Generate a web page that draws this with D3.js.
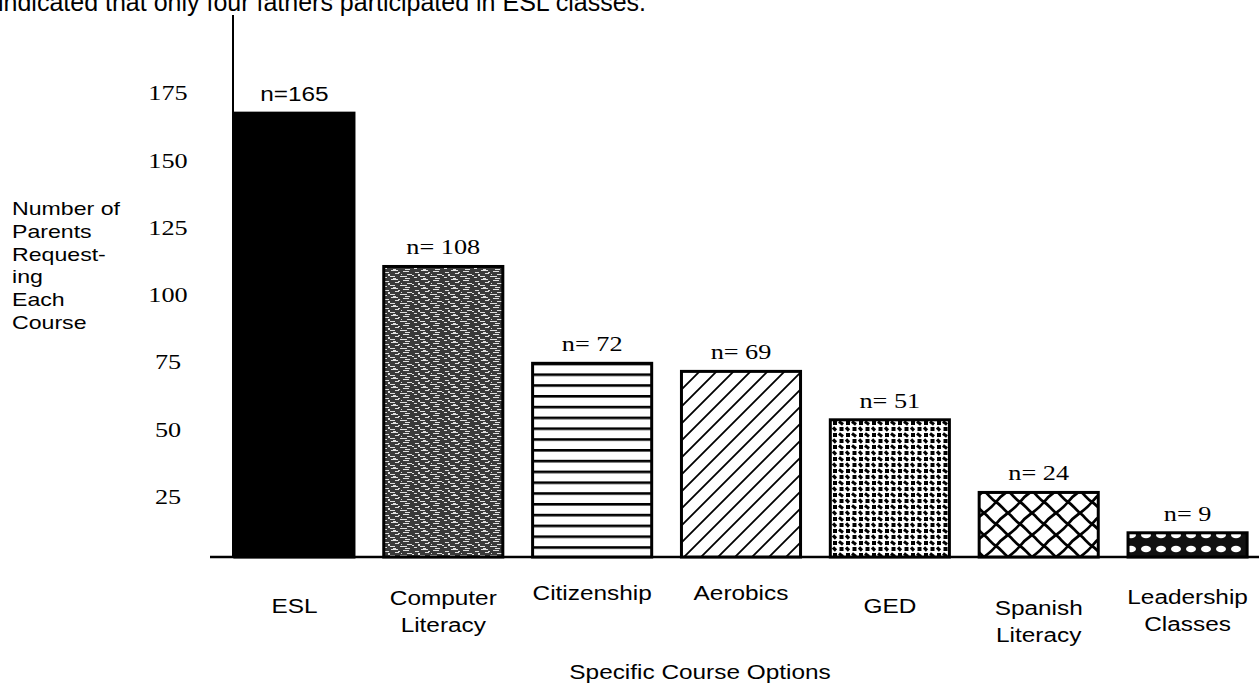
<!DOCTYPE html>
<html><head><meta charset="utf-8">
<script src="https://cdn.jsdelivr.net/npm/d3@7"></script>
<style>body{margin:0;background:#fff}svg{display:block}</style>
</head><body>
<svg id="c" width="1259" height="683"></svg>
<script>
const categories = [["ESL"],["Computer","Literacy"],["Citizenship"],["Aerobics"],["GED"],["Spanish","Literacy"],["Leadership","Classes"]];
const values = [165,108,72,69,51,24,9];
const valueLabels = ["n=165","n= 108","n= 72","n= 69","n= 51","n= 24","n= 9"];
const tickValues = [25,50,75,100,125,150,175];
const yTitle = ["Number of","Parents","Request-","ing","Each","Course"];
const xTitle = "Specific Course Options";
const topText = "indicated that only four fathers participated in ESL classes.";
const patterns = ["solid","noise","hlines","diag","dots","weave","blobs"];
const catLabelOffsets = [0,-8,-13,-13,0,2,-9];

const SX = 1.25; // horizontal stretch of scanned text
const SANS = "Liberation Sans, Arial, sans-serif";
const SERIF = "Liberation Serif, Times New Roman, serif";
const svg = d3.select("#c");
const base = 557;
const y = d3.scaleLinear().domain([0,175]).range([base, base-175*2.69]);
const x = d3.scaleBand().domain(d3.range(values.length)).range([220,1262]).paddingInner(0.2).paddingOuter(0.1);

const defs = svg.append("defs");
// noise
let p = defs.append("pattern").attr("id","noise").attr("patternUnits","userSpaceOnUse").attr("width",30).attr("height",9);
p.append("rect").attr("width",30).attr("height",9).attr("fill","#3a3a3a");
[[1,0,7,1],[13,1,6,1],[5,3,4,1],[17,4,5,1],[0,6,5,1],[10,6,7,1],[24,7,3,1],[8,2,2,1],[25,2,4,1],[22,5,2,1],[3,8,3,1],[15,8,5,1],[28,4,2,2],[11,4,1,1]].forEach(r=>p.append("rect").attr("x",r[0]).attr("y",r[1]).attr("width",r[2]).attr("height",r[3]).attr("fill","#e0e0e0"));
// hlines
p = defs.append("pattern").attr("id","hlines").attr("patternUnits","userSpaceOnUse").attr("width",20).attr("height",10.8).attr("y",base);
p.append("rect").attr("width",20).attr("height",10.8).attr("fill","#fff");
p.append("rect").attr("y",0).attr("width",20).attr("height",2.6).attr("fill","#000");
// diag
p = defs.append("pattern").attr("id","diag").attr("patternUnits","userSpaceOnUse").attr("width",17).attr("height",17);
p.append("rect").attr("width",17).attr("height",17).attr("fill","#fff");
p.append("path").attr("d","M0,17L17,0M-4,4L4,-4M13,21L21,13").attr("stroke","#000").attr("stroke-width",1.8);
// dots
p = defs.append("pattern").attr("id","dots").attr("patternUnits","userSpaceOnUse").attr("width",13).attr("height",12);
p.append("rect").attr("width",13).attr("height",12).attr("fill","#fff");
p.append("rect").attr("x",1).attr("y",1).attr("width",4).attr("height",4).attr("fill","#000");
p.append("path").attr("d","M7,1.5L11,4.5").attr("stroke","#000").attr("stroke-width",3.2);
p.append("rect").attr("x",7.5).attr("y",7).attr("width",4).attr("height",4).attr("fill","#000");
p.append("path").attr("d","M1,7.5L4,10.5").attr("stroke","#000").attr("stroke-width",3.2);
// weave
p = defs.append("pattern").attr("id","weave").attr("patternUnits","userSpaceOnUse").attr("width",24).attr("height",22).attr("y",base);
p.append("rect").attr("width",24).attr("height",22).attr("fill","#fff");
p.append("path").attr("d","M0,0C5,4 7,8 12,11C17,14 19,18 24,22M12,11C15,7 18,4 24,0M0,22C4,19 8,16 12,11").attr("fill","none").attr("stroke","#000").attr("stroke-width",2.8);
// blobs
p = defs.append("pattern").attr("id","blobs").attr("patternUnits","userSpaceOnUse").attr("width",15).attr("height",14).attr("y",base);
p.append("rect").attr("width",15).attr("height",14).attr("fill","#111");
p.append("ellipse").attr("cx",6).attr("cy",6).attr("rx",5).attr("ry",3.2).attr("fill","#fff");

function stretched(g, tx, ty, txt, family, size, anchor){
  return g.append("text").attr("transform",`translate(${tx},${ty}) scale(${SX},1)`)
    .attr("text-anchor",anchor||"start").attr("font-family",family).attr("font-size",size).attr("fill","#000").text(txt);
}

// top text (partly cut by the page edge, as in the scan)
svg.append("text").attr("x",-2).attr("y",11).attr("font-family",SANS).attr("font-size",25).attr("fill","#000").text(topText);

// axes
svg.append("line").attr("x1",233).attr("x2",233).attr("y1",15).attr("y2",base).attr("stroke","#000").attr("stroke-width",2);
svg.append("line").attr("x1",210).attr("x2",1259).attr("y1",base).attr("y2",base).attr("stroke","#000").attr("stroke-width",2.5);

// y tick labels
const tg = svg.append("g");
tickValues.forEach(d=>stretched(tg,168,y(d)+14,d,SERIF,21,"middle"));

// y title
const yg = svg.append("g");
yTitle.forEach((d,i)=>stretched(yg,12,215+i*22.8,d,SANS,18.5,"start"));

// bars
svg.append("g").selectAll("rect").data(values).join("rect")
  .attr("x",(d,i)=>x(i)).attr("width",x.bandwidth())
  .attr("y",d=>y(d)).attr("height",d=>base-y(d))
  .attr("fill",(d,i)=>patterns[i]==="solid"?"#000":`url(#${patterns[i]})`)
  .attr("stroke","#000").attr("stroke-width",3);

// value labels
const vg = svg.append("g");
values.forEach((d,i)=>stretched(vg,x(i)+x.bandwidth()/2,y(d)-12,valueLabels[i],i===0?SANS:SERIF,i===0?19.5:21,"middle"));

// category labels
const cg = svg.append("g");
categories.forEach((lines,i)=>{
  const t = cg.append("text").attr("text-anchor","middle")
    .attr("font-family",SANS).attr("font-size",19.5)
    .attr("transform",`translate(${x(i)+x.bandwidth()/2},${613+catLabelOffsets[i]}) scale(${SX},1)`);
  lines.forEach((l,j)=>t.append("tspan").attr("x",0).attr("y",j*27).text(l));
});

stretched(svg,700,679,xTitle,SANS,19.5,"middle");
</script>
</body></html>
